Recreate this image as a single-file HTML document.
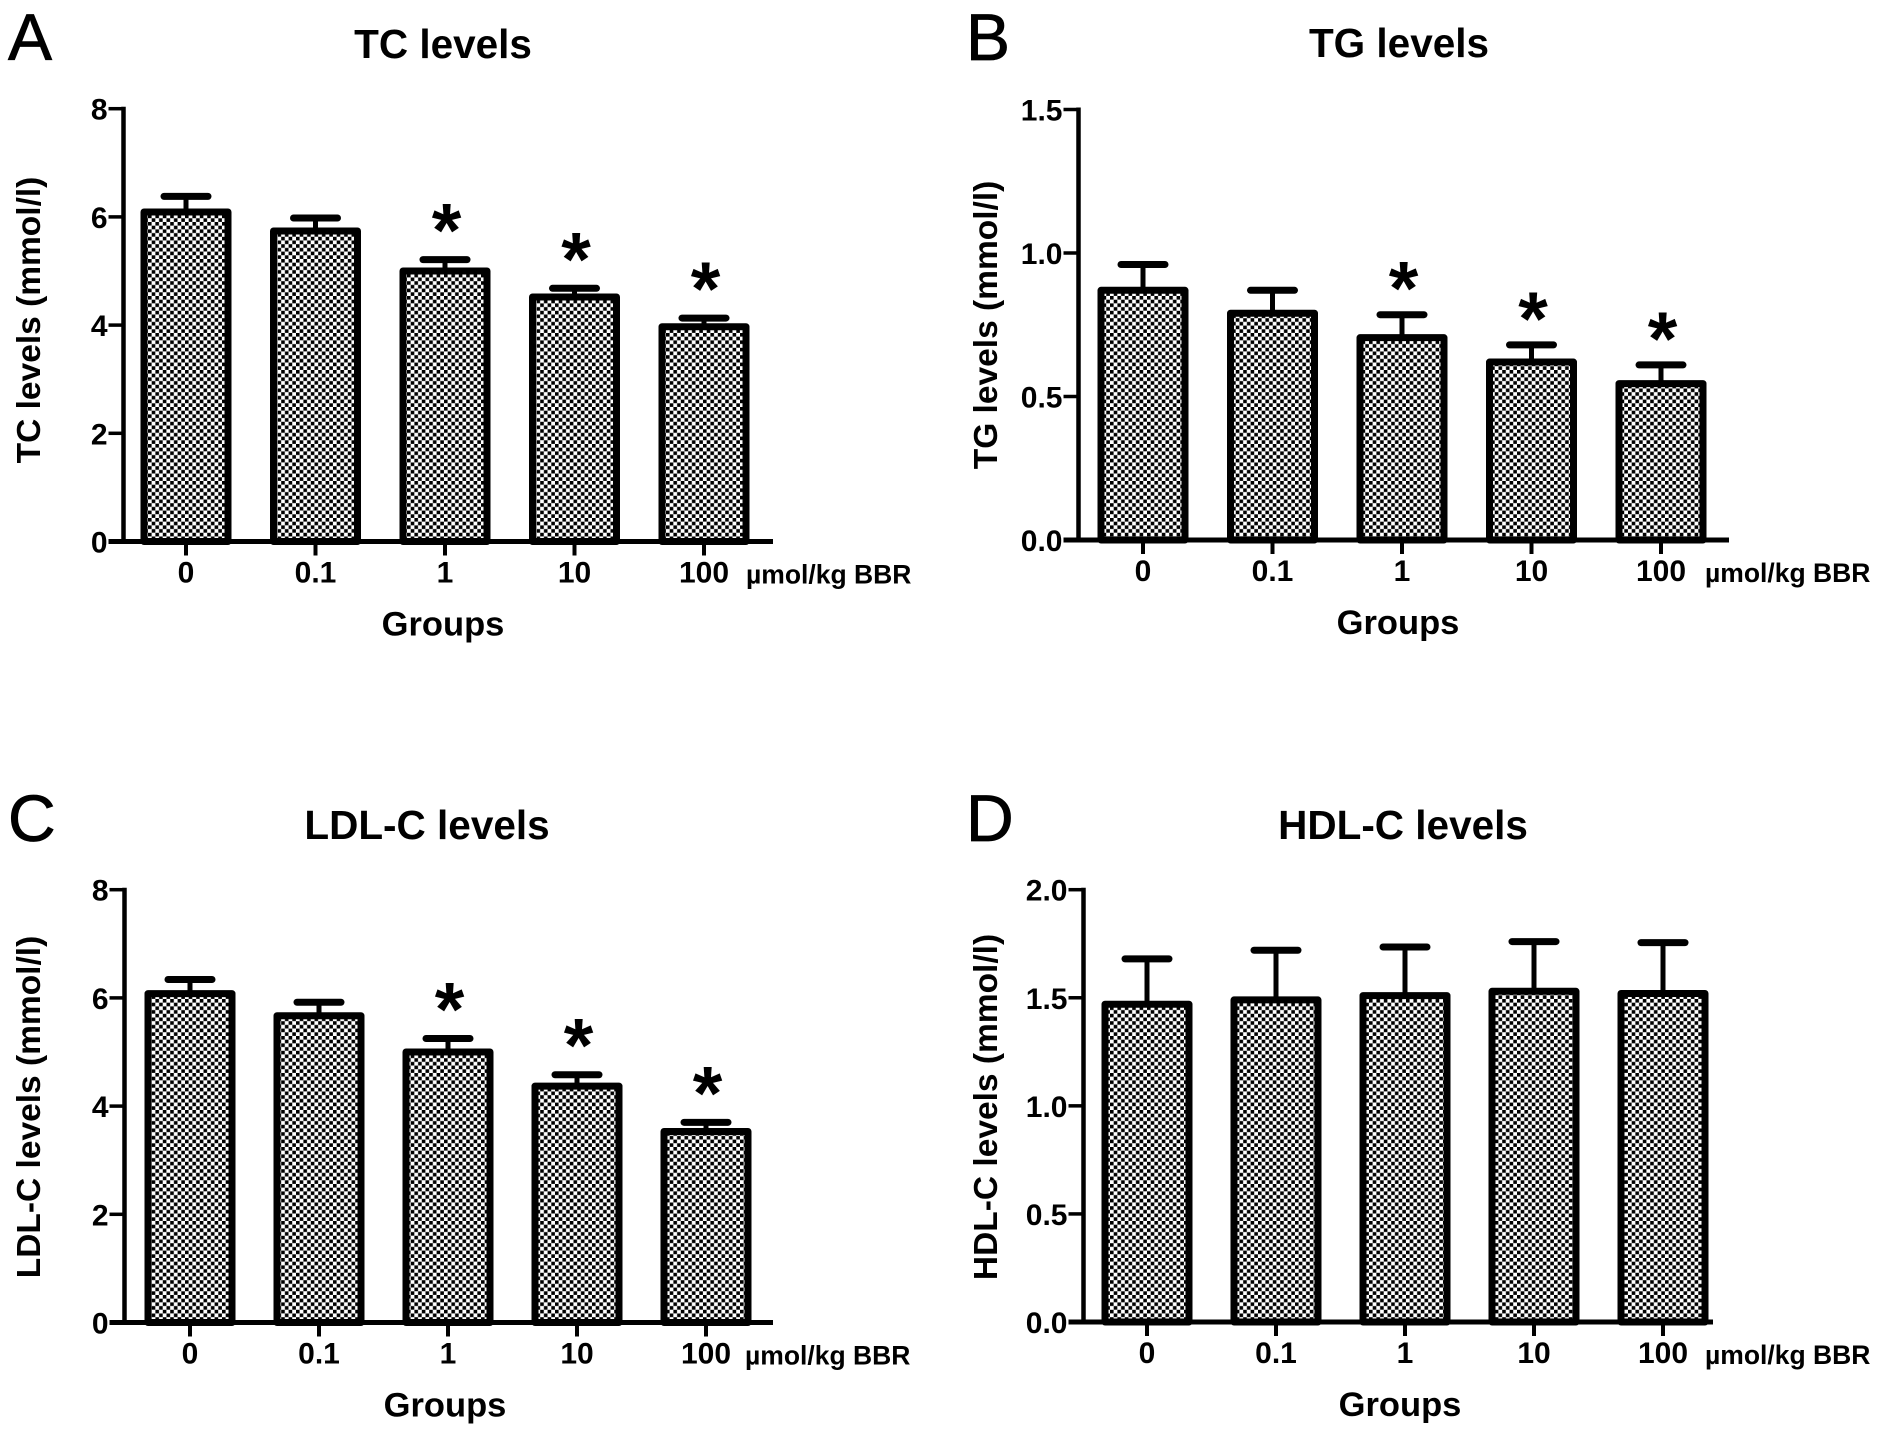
<!DOCTYPE html>
<html lang="en">
<head>
<meta charset="utf-8">
<title>Lipid levels by BBR dose</title>
<style>
html,body{margin:0;padding:0;background:#fff;}
svg{display:block;}
text{font-family:"Liberation Sans",sans-serif;fill:#000;}
.b{font-weight:700;}
</style>
</head>
<body>
<svg id="figure" xmlns="http://www.w3.org/2000/svg" width="1884" height="1437" viewBox="0 0 1884 1437">
<rect width="1884" height="1437" fill="#fff"/>
<defs>
<pattern id="dots" patternUnits="userSpaceOnUse" width="7.4" height="7.4">
<rect width="7.4" height="7.4" fill="#fff"/>
<rect x="0" y="0" width="3.6" height="3.6" fill="#000"/>
<rect x="3.7" y="3.7" width="3.6" height="3.6" fill="#000"/>
</pattern>
</defs>
</svg>
<script>
const doseLabels = ['0', '0.1', '1', '10', '100'];

const tcValues = [6.09, 5.74, 5.0, 4.52, 3.97];
const tcErrors = [0.29, 0.24, 0.21, 0.16, 0.16];
const tcStars = [false, false, true, true, true];
const tcTicks = ['0', '2', '4', '6', '8'];

const tgValues = [0.87, 0.79, 0.705, 0.62, 0.545];
const tgErrors = [0.09, 0.08, 0.08, 0.06, 0.065];
const tgStars = [false, false, true, true, true];
const tgTicks = ['0.0', '0.5', '1.0', '1.5'];

const ldlValues = [6.08, 5.67, 5.0, 4.37, 3.53];
const ldlErrors = [0.26, 0.25, 0.25, 0.21, 0.17];
const ldlStars = [false, false, true, true, true];
const ldlTicks = ['0', '2', '4', '6', '8'];

const hdlValues = [1.47, 1.49, 1.51, 1.53, 1.52];
const hdlErrors = [0.21, 0.23, 0.225, 0.23, 0.235];
const hdlStars = [false, false, false, false, false];
const hdlTicks = ['0.0', '0.5', '1.0', '1.5', '2.0'];

const svgNS = 'http://www.w3.org/2000/svg';
const root = document.getElementById('figure');

function shape(parent, tag, attrs) {
  const el = document.createElementNS(svgNS, tag);
  for (const k in attrs) el.setAttribute(k, attrs[k]);
  parent.appendChild(el);
  return el;
}

function label(parent, str, attrs) {
  const el = shape(parent, 'text', attrs);
  el.textContent = str;
  return el;
}

function drawPanel(p) {
  const g = shape(root, 'g', {});
  
  

  const maxV = parseFloat(p.ticks[p.ticks.length - 1]);
  const yScale = v => p.y0 - v * (p.y0 - p.top) / maxV;
  const xScale = i => p.x0 + i * p.step;

  const letter = label(g, p.letter, { x: p.letterX, y: p.letterY, 'font-size': 66, stroke: '#000', 'stroke-width': 0.8 });
  
  

  const title = label(g, p.title, { x: p.titleX, y: p.titleY, 'font-size': 40.5, 'text-anchor': 'middle', class: 'b' });
  
  

  p.values.forEach((v, i) => {
    const cx = xScale(i);
    const topY = yScale(v);
    const capY = yScale(v + p.errors[i]);

    const stem = shape(g, 'line', { x1: cx, x2: cx, y1: topY, y2: capY, stroke: '#000', 'stroke-width': 5 });
    
    

    const cap = shape(g, 'line', { x1: cx - 22, x2: cx + 22, y1: capY, y2: capY, stroke: '#000', 'stroke-width': 7, 'stroke-linecap': 'round' });
    
    

    const bar = shape(g, 'rect', { x: cx - 42, y: topY, width: 84, height: p.y0 - topY, fill: 'url(#dots)', stroke: '#000', 'stroke-width': 7, 'stroke-linejoin': 'round' });
    
    

    if (p.stars[i]) {
      const star = label(g, '*', { x: cx + 1.5, y: capY + p.starDy, 'font-size': 76, 'text-anchor': 'middle', class: 'b' });
      
      
    }

    const tick = shape(g, 'line', { x1: cx, x2: cx, y1: p.y0, y2: p.y0 + 14, stroke: '#000', 'stroke-width': 4 });
    
    

    const tickText = label(g, doseLabels[i], { x: cx, y: p.y0 + 41, 'font-size': 30, 'text-anchor': 'middle', class: 'b' });
    
    
  });

  const yAxis = shape(g, 'line', { x1: p.axisX, x2: p.axisX, y1: p.top - 2, y2: p.y0, stroke: '#000', 'stroke-width': 4.5 });
  
  

  const xAxis = shape(g, 'line', { x1: p.axisX - 15, x2: p.xEnd, y1: p.y0, y2: p.y0, stroke: '#000', 'stroke-width': 5 });
  
  

  p.ticks.forEach(t => {
    const y = yScale(parseFloat(t));
    const tick = shape(g, 'line', { x1: p.axisX - 15, x2: p.axisX, y1: y, y2: y, stroke: '#000', 'stroke-width': 3.5 });
    
    

    const tickText = label(g, t, { x: p.axisX - 16, y: y + 11, 'font-size': 30, 'text-anchor': 'end', class: 'b' });
    
    
  });

  const yTitle = label(g, p.yTitle, { 'font-size': 33.5, 'text-anchor': 'middle', class: 'b', transform: 'translate(' + p.yTitleX + ',' + p.yTitleY + ') rotate(-90)' });
  
  

  const xTitle = label(g, 'Groups', { x: p.groupsX, y: p.y0 + 94, 'font-size': 34.5, 'text-anchor': 'middle', class: 'b' });
  
  

  const unit = label(g, 'µmol/kg BBR', { x: p.unitX, y: p.y0 + 42, 'font-size': 26.5, class: 'b' });
  
  
}

drawPanel({ key: 'tc', letter: 'A', letterX: 8, letterY: 60, title: 'TC levels', titleX: 443, titleY: 58,
  yTitle: 'TC levels (mmol/l)', yTitleX: 40, yTitleY: 320, groupsX: 443, unitX: 746, starDy: -3,
  axisX: 123.5, top: 108.7, y0: 541.5, x0: 186, step: 129.5, xEnd: 773,
  values: tcValues, errors: tcErrors, stars: tcStars, ticks: tcTicks });

drawPanel({ key: 'tg', letter: 'B', letterX: 966, letterY: 60, title: 'TG levels', titleX: 1399, titleY: 57,
  yTitle: 'TG levels (mmol/l)', yTitleX: 997, yTitleY: 325, groupsX: 1398, unitX: 1705, starDy: 0,
  axisX: 1078.5, top: 109.5, y0: 540, x0: 1143, step: 129.5, xEnd: 1729,
  values: tgValues, errors: tgErrors, stars: tgStars, ticks: tgTicks });

drawPanel({ key: 'ldl', letter: 'C', letterX: 8, letterY: 841, title: 'LDL-C levels', titleX: 427, titleY: 839,
  yTitle: 'LDL-C levels (mmol/l)', yTitleX: 40, yTitleY: 1107, groupsX: 445, unitX: 745, starDy: -3,
  axisX: 124.5, top: 889.7, y0: 1322.5, x0: 190, step: 129, xEnd: 773,
  values: ldlValues, errors: ldlErrors, stars: ldlStars, ticks: ldlTicks });

drawPanel({ key: 'hdl', letter: 'D', letterX: 966, letterY: 841, title: 'HDL-C levels', titleX: 1403, titleY: 839,
  yTitle: 'HDL-C levels (mmol/l)', yTitleX: 997, yTitleY: 1107, groupsX: 1400, unitX: 1705, starDy: -3,
  axisX: 1083.5, top: 889.7, y0: 1322, x0: 1147, step: 129, xEnd: 1713,
  values: hdlValues, errors: hdlErrors, stars: hdlStars, ticks: hdlTicks });
</script>
</body>
</html>
